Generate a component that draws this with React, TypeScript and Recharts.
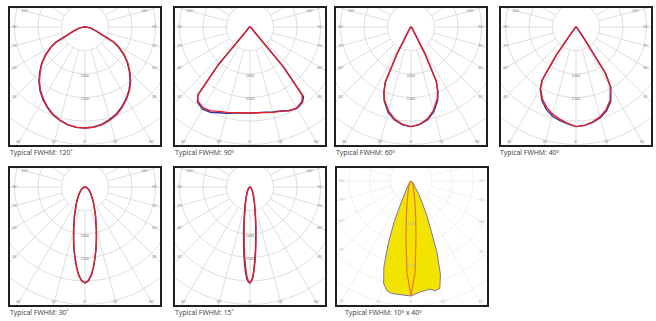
import React from 'react';
import { RadarChart, Radar, PolarGrid, PolarAngleAxis, PolarRadiusAxis } from 'recharts';

// beam angle in degrees (0 = straight down, + = right) and intensity in cd
const angles120 = [-90, -85, -80, -75, -70, -65, -62.5, -60, -55, -50, -45, -40, -35, -30, -25, -20, -15, -10, -5, 0, 5, 10, 15, 20, 25, 30, 35, 40, 45, 50, 55, 60, 62.5, 65, 70, 75, 80, 85, 90];
const red120 = [0, 40, 110, 170, 260, 430, 690, 810, 1010, 1190, 1350, 1510, 1650, 1770, 1880, 1980, 2050, 2110, 2140, 2150, 2140, 2110, 2050, 1980, 1880, 1770, 1650, 1510, 1350, 1190, 1010, 810, 690, 430, 260, 170, 110, 40, 0];
const blue120 = [0, 40, 110, 175, 270, 445, 705, 825, 1025, 1205, 1365, 1525, 1665, 1785, 1895, 1990, 2060, 2115, 2145, 2150, 2135, 2100, 2035, 1965, 1865, 1755, 1635, 1495, 1335, 1175, 995, 795, 680, 420, 255, 165, 110, 40, 0];

const angles90 = [-90, -70, -50, -42.5, -40, -37.5, -35, -30, -25, -20, -15, -10, -5, 0, 5, 10, 15, 20, 25, 30, 35, 37.5, 40, 42.5, 50, 70, 90];
const red90 = [0, 20, 60, 110, 1060, 1830, 1930, 1990, 1970, 1910, 1880, 1850, 1830, 1830, 1830, 1850, 1880, 1910, 1970, 1990, 1930, 1830, 1060, 110, 60, 20, 0];
const blue90 = [0, 20, 60, 100, 1040, 1820, 1950, 2020, 2000, 1940, 1900, 1860, 1840, 1830, 1830, 1840, 1870, 1900, 1960, 2000, 1950, 1870, 1120, 120, 60, 20, 0];

const angles60 = [-90, -45, -35, -30, -27.5, -25, -22.5, -20, -15, -10, -5, 0, 5, 10, 15, 20, 22.5, 25, 27.5, 30, 35, 45, 90];
const red60 = [0, 30, 60, 180, 660, 1300, 1500, 1650, 1850, 1990, 2080, 2120, 2080, 1990, 1840, 1630, 1480, 1270, 640, 170, 60, 30, 0];
const blue60 = [0, 30, 60, 170, 640, 1290, 1510, 1670, 1880, 2010, 2090, 2120, 2085, 2010, 1870, 1660, 1500, 1280, 650, 170, 60, 30, 0];

const angles40 = [-90, -50, -40, -37.5, -35, -32.5, -30, -25, -20, -15, -10, -5, 0, 5, 10, 15, 20, 25, 30, 32.5, 35, 37.5, 40, 50, 90];
const red40 = [0, 30, 60, 170, 750, 1340, 1510, 1690, 1820, 1920, 1990, 2060, 2120, 2100, 2050, 1980, 1870, 1720, 1460, 1160, 320, 130, 60, 30, 0];
const blue40 = [0, 30, 60, 160, 730, 1330, 1520, 1720, 1860, 1960, 2020, 2070, 2120, 2100, 2060, 2000, 1900, 1750, 1480, 1170, 330, 130, 60, 30, 0];

const angles30 = [-90, -75, -60, -50, -40, -30, -25, -20, -15, -12, -10, -8, -6, -4, -2, 0, 2, 4, 6, 8, 10, 12, 15, 20, 25, 30, 40, 50, 60, 75, 90];
const red30 = [0, 30, 80, 120, 200, 350, 470, 660, 940, 1170, 1350, 1530, 1720, 1890, 2000, 2040, 2000, 1890, 1720, 1530, 1350, 1170, 940, 660, 470, 350, 200, 120, 80, 30, 0];
const blue30 = [0, 30, 80, 120, 200, 340, 460, 650, 930, 1160, 1340, 1520, 1710, 1880, 1995, 2040, 2000, 1885, 1715, 1520, 1340, 1160, 930, 650, 460, 340, 200, 120, 80, 30, 0];

const angles15 = [-90, -60, -45, -30, -20, -15, -10, -8, -6, -5, -4, -3, -2, -1, 0, 1, 2, 3, 4, 5, 6, 8, 10, 15, 20, 30, 45, 60, 90];
const red15 = [0, 20, 45, 110, 230, 380, 690, 910, 1200, 1380, 1560, 1740, 1900, 2000, 2040, 2000, 1900, 1740, 1560, 1380, 1200, 910, 690, 380, 230, 110, 45, 20, 0];
const blue15 = [0, 20, 50, 120, 250, 410, 740, 980, 1290, 1470, 1650, 1820, 1950, 2020, 2040, 1990, 1880, 1700, 1510, 1330, 1160, 880, 670, 370, 220, 100, 40, 20, 0];

const anglesDual = [-90, -45, -35, -30, -25, -22.5, -20, -17.5, -15, -12.5, -10, -7.5, -5, -2.5, 0, 2.5, 5, 7.5, 10, 12.5, 15, 17.5, 20, 22.5, 25, 30, 35, 45, 90];
const wide40 = [0, 50, 100, 190, 510, 1060, 1590, 2170, 2550, 2700, 2750, 2750, 2750, 2760, 2770, 2720, 2680, 2660, 2650, 2710, 2680, 2360, 1830, 1210, 880, 390, 170, 70, 0];
const narrow10 = [0, 30, 50, 70, 100, 130, 160, 200, 270, 380, 550, 850, 1380, 2210, 2770, 2210, 1380, 850, 550, 380, 270, 200, 160, 130, 100, 70, 50, 30, 0];

const edgeTicks = [-105, -90, -75, -60, -45, -30, -15, 0, 15, 30, 45, 60, 75, 90, 105];
const edgeTicksDual = [-90, -75, -60, -45, -30, -15, 0, 15, 30, 45, 60, 75, 90];
const ringTicks = [1000, 1500];
const ringTicksDual = [1000, 2000];

const W = 150;
const H = 137;

type Series = { key: string; values: number[]; stroke: string; fill?: string; width: number };

type PanelProps = {
  left: number;
  top: number;
  cx: number;
  cy: number;
  angles: number[];
  series: Series[];
  ring: number;
  rings: number;
  ringStep: number;
  ringLabels: number[];
  edgeLabels: number[];
  gridColor: string;
  textColor: string;
};

const PolarPanel = ({ left, top, cx, cy, angles, series, ring, rings, ringStep, ringLabels, edgeLabels, gridColor, textColor }: PanelProps) => {
  const data = angles.map((a, i) => {
    const row: Record<string, number> = { angle: a };
    series.forEach((s) => { row[s.key] = s.values[i]; });
    return row;
  });
  const radii = Array.from({ length: rings }, (_, i) => (i + 1) * ring);
  const spokes = Array.from({ length: 24 }, (_, i) => i * 15);

  // put each angle label where its ray meets the frame
  const edgeTick = (props: any) => {
    const v = Number(props.payload.value);
    const a = (v * Math.PI) / 180;
    const dx = Math.sin(a);
    const dy = Math.cos(a);
    const ts: number[] = [];
    if (dx > 1e-6) ts.push((W - 5 - cx) / dx);
    if (dx < -1e-6) ts.push((5 - cx) / dx);
    if (dy > 1e-6) ts.push((H - 3 - cy) / dy);
    if (dy < -1e-6) ts.push((3 - cy) / dy);
    const t = Math.min(...ts);
    return (
      <text x={cx + t * dx} y={cy + t * dy + 1.2} textAnchor="middle" fontSize={3.6} fill={textColor} fontFamily="Liberation Sans, Arial, sans-serif">
        {Math.abs(v)}°
      </text>
    );
  };

  const ringTick = (props: any) => (
    <text x={props.x} y={props.y + 2.5} textAnchor="middle" fontSize={3.8} fill={textColor} fontFamily="Liberation Sans, Arial, sans-serif">
      {props.payload.value}
    </text>
  );

  return (
    <div style={{ position: 'absolute', left, top, width: W, height: H, border: '2px solid #231f20', background: '#fff' }}>
      <RadarChart
        width={W}
        height={H}
        data={data}
        cx={cx}
        cy={cy}
        innerRadius={ring}
        outerRadius={ring * rings}
        startAngle={-270}
        endAngle={90}
        margin={{ top: 0, right: 0, bottom: 0, left: 0 }}
      >
        <PolarGrid gridType="circle" polarAngles={spokes} polarRadius={radii} stroke={gridColor} strokeWidth={0.8} />
        <PolarAngleAxis dataKey="angle" type="number" scale="linear" domain={[-180, 180]} ticks={edgeLabels} tick={edgeTick} axisLine={false} tickLine={false} />
        <PolarRadiusAxis type="number" domain={[ringStep, ringStep * rings]} allowDataOverflow angle={-90} ticks={ringLabels} tick={ringTick} axisLine={false} tickLine={false} orientation="middle" />
        {series.map((s) => (
          <Radar
            key={s.key}
            dataKey={s.key}
            stroke={s.stroke}
            strokeWidth={s.width}
            fill={s.fill ?? 'none'}
            fillOpacity={s.fill ? 1 : 0}
            dot={false}
            isAnimationActive={false}
          />
        ))}
      </RadarChart>
    </div>
  );
};

const RED = '#e3202a';
const BLUE = '#35369a';

const Caption = ({ left, top, text }: { left: number; top: number; text: string }) => (
  <div style={{ position: 'absolute', left, top, fontSize: 6.9, lineHeight: '8px', fontFamily: '"Open Sans", sans-serif', color: '#3a3a3a', whiteSpace: 'nowrap' }}>
    {text}
  </div>
);

const pair = (red: number[], blue: number[]): Series[] => [
  { key: 'blue', values: blue, stroke: BLUE, width: 1.4 },
  { key: 'red', values: red, stroke: RED, width: 1.4 },
];

export default function App() {
  const common = { cx: 75, cy: 19, ring: 23.5, rings: 7, ringStep: 500, ringLabels: ringTicks, edgeLabels: edgeTicks, gridColor: '#d6d6d6', textColor: '#777' };
  return (
    <div style={{ position: 'absolute', left: 0, top: 0, width: 656, height: 321, background: '#fff', overflow: 'hidden' }}>
      <PolarPanel left={8} top={6} angles={angles120} series={pair(red120, blue120)} {...common} />
      <PolarPanel left={173} top={6} angles={angles90} series={pair(red90, blue90)} {...common} />
      <PolarPanel left={334} top={6} angles={angles60} series={pair(red60, blue60)} {...common} />
      <PolarPanel left={499} top={6} angles={angles40} series={pair(red40, blue40)} {...common} />
      <PolarPanel left={8} top={166} angles={angles30} series={pair(red30, blue30)} {...common} />
      <PolarPanel left={173} top={166} angles={angles15} series={pair(red15, blue15)} {...common} />
      <PolarPanel
        left={335}
        top={166}
        cx={74}
        cy={13}
        angles={anglesDual}
        series={[
          { key: 'wide', values: wide40, stroke: '#7d72b4', fill: '#f3e400', width: 1 },
          { key: 'narrow', values: narrow10, stroke: '#ec7a25', width: 1.2 },
        ]}
        ring={20.75}
        rings={8}
        ringStep={500}
        ringLabels={ringTicksDual}
        edgeLabels={edgeTicksDual}
        gridColor="#ececec"
        textColor="#bdbdbd"
      />
      <Caption left={10} top={149} text="Typical FWHM: 120˚" />
      <Caption left={175} top={149} text="Typical FWHM: 90º" />
      <Caption left={336} top={149} text="Typical FWHM: 60º" />
      <Caption left={500} top={149} text="Typical FWHM: 40º" />
      <Caption left={10} top={309} text="Typical FWHM: 30˚" />
      <Caption left={175} top={309} text="Typical FWHM: 15˚" />
      <Caption left={345} top={309} text="Typical FWHM: 10º x 40º" />
    </div>
  );
}
